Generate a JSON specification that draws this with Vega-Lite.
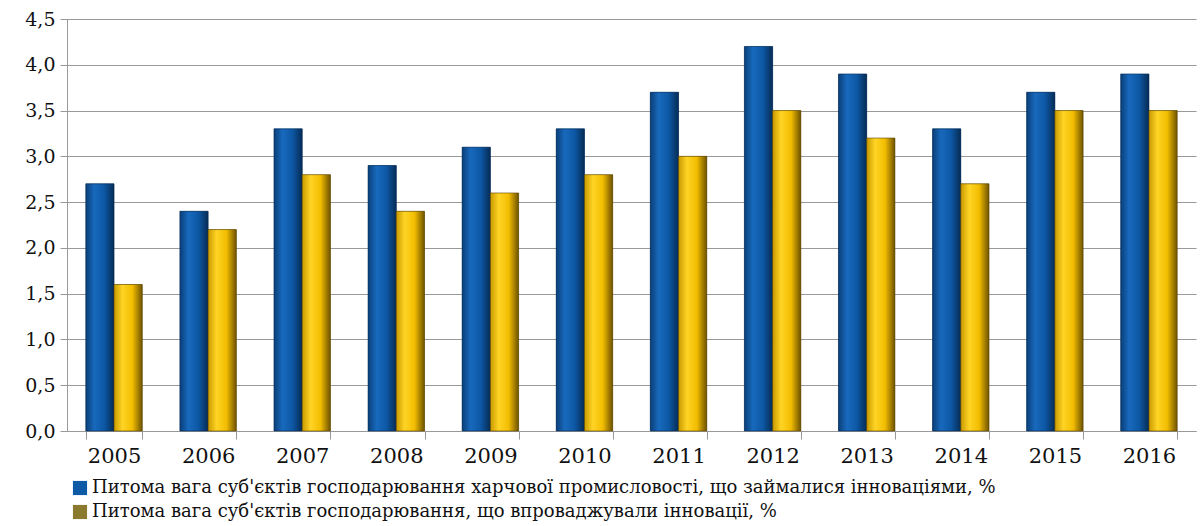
{
  "$schema": "https://vega.github.io/schema/vega-lite/v6.json",
  "width": 1129,
  "height": 412,
  "autosize": {"type": "none"},
  "padding": {"left": 67, "top": 19, "right": 4, "bottom": 95},
  "background": "white",
  "datasets": {
    "innov": [
      {"year": "2005", "series": "Питома вага суб'єктів господарювання харчової промисловості, що займалися інноваціями, %", "value": 2.7},
      {"year": "2006", "series": "Питома вага суб'єктів господарювання харчової промисловості, що займалися інноваціями, %", "value": 2.4},
      {"year": "2007", "series": "Питома вага суб'єктів господарювання харчової промисловості, що займалися інноваціями, %", "value": 3.3},
      {"year": "2008", "series": "Питома вага суб'єктів господарювання харчової промисловості, що займалися інноваціями, %", "value": 2.9},
      {"year": "2009", "series": "Питома вага суб'єктів господарювання харчової промисловості, що займалися інноваціями, %", "value": 3.1},
      {"year": "2010", "series": "Питома вага суб'єктів господарювання харчової промисловості, що займалися інноваціями, %", "value": 3.3},
      {"year": "2011", "series": "Питома вага суб'єктів господарювання харчової промисловості, що займалися інноваціями, %", "value": 3.7},
      {"year": "2012", "series": "Питома вага суб'єктів господарювання харчової промисловості, що займалися інноваціями, %", "value": 4.2},
      {"year": "2013", "series": "Питома вага суб'єктів господарювання харчової промисловості, що займалися інноваціями, %", "value": 3.9},
      {"year": "2014", "series": "Питома вага суб'єктів господарювання харчової промисловості, що займалися інноваціями, %", "value": 3.3},
      {"year": "2015", "series": "Питома вага суб'єктів господарювання харчової промисловості, що займалися інноваціями, %", "value": 3.7},
      {"year": "2016", "series": "Питома вага суб'єктів господарювання харчової промисловості, що займалися інноваціями, %", "value": 3.9},
      {"year": "2005", "series": "Питома вага суб'єктів господарювання, що впроваджували інновації, %", "value": 1.6},
      {"year": "2006", "series": "Питома вага суб'єктів господарювання, що впроваджували інновації, %", "value": 2.2},
      {"year": "2007", "series": "Питома вага суб'єктів господарювання, що впроваджували інновації, %", "value": 2.8},
      {"year": "2008", "series": "Питома вага суб'єктів господарювання, що впроваджували інновації, %", "value": 2.4},
      {"year": "2009", "series": "Питома вага суб'єктів господарювання, що впроваджували інновації, %", "value": 2.6},
      {"year": "2010", "series": "Питома вага суб'єктів господарювання, що впроваджували інновації, %", "value": 2.8},
      {"year": "2011", "series": "Питома вага суб'єктів господарювання, що впроваджували інновації, %", "value": 3.0},
      {"year": "2012", "series": "Питома вага суб'єктів господарювання, що впроваджували інновації, %", "value": 3.5},
      {"year": "2013", "series": "Питома вага суб'єктів господарювання, що впроваджували інновації, %", "value": 3.2},
      {"year": "2014", "series": "Питома вага суб'єктів господарювання, що впроваджували інновації, %", "value": 2.7},
      {"year": "2015", "series": "Питома вага суб'єктів господарювання, що впроваджували інновації, %", "value": 3.5},
      {"year": "2016", "series": "Питома вага суб'єктів господарювання, що впроваджували інновації, %", "value": 3.5}
    ]
  },
  "data": {"name": "innov"},
  "encoding": {
    "x": {
      "field": "year",
      "type": "nominal",
      "title": null,
      "scale": {"paddingInner": 0.4, "paddingOuter": 0.2},
      "axis": {
        "labelAngle": 0,
        "labelFontSize": 21,
        "labelColor": "#111",
        "labelPadding": 6,
        "tickBand": "extent",
        "tickSize": 8,
        "tickColor": "#999",
        "domainColor": "#999",
        "grid": false
      }
    },
    "xOffset": {
      "field": "series",
      "type": "nominal",
      "scale": {"domain": [
        "Питома вага суб'єктів господарювання харчової промисловості, що займалися інноваціями, %",
        "Питома вага суб'єктів господарювання, що впроваджували інновації, %"
      ]}
    },
    "y": {
      "field": "value",
      "type": "quantitative",
      "title": null,
      "scale": {"domain": [0, 4.5], "nice": false},
      "axis": {
        "values": [0, 0.5, 1, 1.5, 2, 2.5, 3, 3.5, 4, 4.5],
        "format": ".1f",
        "labelFontSize": 19,
        "labelColor": "#111",
        "labelPadding": 5,
        "tickSize": 7,
        "tickColor": "#999",
        "domainColor": "#999",
        "grid": true,
        "gridColor": "#999",
        "gridWidth": 1
      }
    }
  },
  "layer": [
    {
      "mark": {"type": "bar"},
      "encoding": {
        "color": {
          "field": "series",
          "type": "nominal",
          "scale": {
            "domain": [
              "Питома вага суб'єктів господарювання харчової промисловості, що займалися інноваціями, %",
              "Питома вага суб'єктів господарювання, що впроваджували інновації, %"
            ],
            "range": ["#0d5aa7", "#8a7a30"]
          },
          "legend": {
            "orient": "none",
            "legendX": 4,
            "legendY": 460,
            "title": null,
            "direction": "vertical",
            "symbolType": "square",
            "symbolSize": 200,
            "symbolStrokeWidth": 0,
            "rowPadding": 6,
            "labelFontSize": 18,
            "labelColor": "#111",
            "labelLimit": 1150,
            "labelOffset": 3
          }
        }
      }
    },
    {
      "transform": [{"filter": "indexof(datum.series, 'харчової') >= 0"}],
      "mark": {
        "type": "bar",
        "stroke": "#062a50",
        "strokeWidth": 0.6,
        "fill": {
          "gradient": "linear",
          "x1": 0, "y1": 0, "x2": 1, "y2": 0,
          "stops": [
            {"offset": 0, "color": "#0a3f78"},
            {"offset": 0.3, "color": "#1869bd"},
            {"offset": 0.65, "color": "#0d58a5"},
            {"offset": 1, "color": "#062c55"}
          ]
        }
      }
    },
    {
      "transform": [{"filter": "indexof(datum.series, 'харчової') < 0"}],
      "mark": {
        "type": "bar",
        "stroke": "#5c4500",
        "strokeWidth": 0.6,
        "fill": {
          "gradient": "linear",
          "x1": 0, "y1": 0, "x2": 1, "y2": 0,
          "stops": [
            {"offset": 0, "color": "#c99a00"},
            {"offset": 0.3, "color": "#ffd425"},
            {"offset": 0.65, "color": "#f2bd00"},
            {"offset": 1, "color": "#6e5300"}
          ]
        }
      }
    }
  ],
  "config": {
    "font": "DejaVu Serif",
    "axis": {"labelFont": "DejaVu Serif"},
    "legend": {"labelFont": "DejaVu Serif"},
    "locale": {
      "number": {"decimal": ",", "thousands": " ", "grouping": [3], "currency": ["", ""]}
    },
    "view": {"stroke": null}
  }
}
